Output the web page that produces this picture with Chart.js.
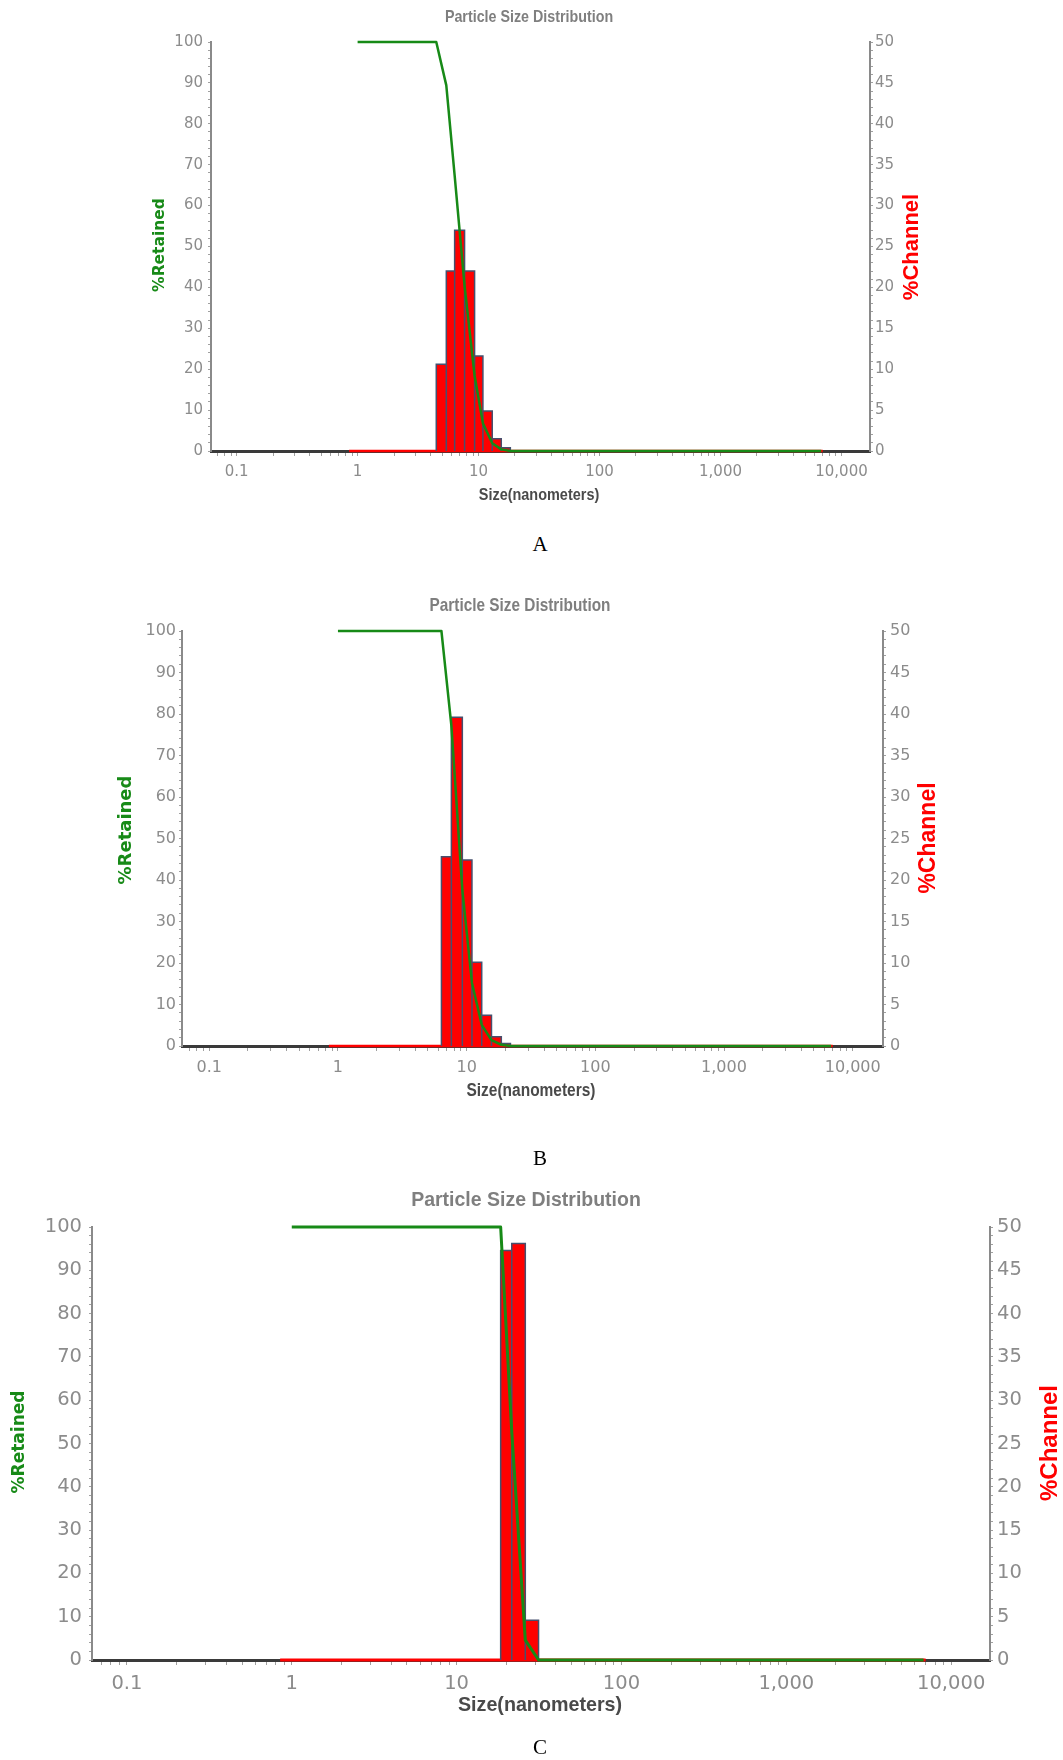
<!DOCTYPE html>
<html><head><meta charset="utf-8">
<script src="https://cdn.jsdelivr.net/npm/chart.js@4.4.1/dist/chart.umd.min.js"></script>
<style>
html,body{margin:0;padding:0;background:#fff;}
body{width:1063px;height:1760px;position:relative;overflow:hidden;}
.wrap{position:absolute;left:0;width:1063px;}
.lab{position:absolute;left:0;width:1080px;text-align:center;font-family:'Liberation Serif','Times New Roman',serif;font-size:21px;line-height:24px;color:#000;}
</style></head><body>
<div class="wrap" style="top:0;height:520px"><canvas id="cA"></canvas></div>
<div class="wrap" style="top:560px;height:560px"><canvas id="cB"></canvas></div>
<div class="wrap" style="top:1160px;height:600px"><canvas id="cC"></canvas></div>
<div class="lab" style="top:532px">A</div>
<div class="lab" style="top:1146px">B</div>
<div class="lab" style="top:1735px">C</div>
<script>
// ---------- data ----------
const xTickValues = [0.1, 1, 10, 100, 1000, 10000];
const xTickLabels = ['0.1', '1', '10', '100', '1,000', '10,000'];
const retainedTicks = [0, 10, 20, 30, 40, 50, 60, 70, 80, 90, 100];
const channelTicks = [0, 5, 10, 15, 20, 25, 30, 35, 40, 45, 50];
const X_MIN = 0.0614, X_MAX = 17200;

// red zero line of the %Channel trace, [from, to] in nm
const channelBaseA = [0.85, 7000];
const channelBaseB = [0.85, 7000];
const channelBaseC = [0.85, 7000];

// Chart A
const edgesA = [4.47, 5.41, 6.34, 7.66, 9.27, 10.86, 12.97, 15.4, 18.3];
const channelA = [10.6, 22.0, 27.0, 22.0, 11.6, 4.9, 1.5, 0.4];
const retSizeA = [1, 4.47, 5.41, 6.34, 7.66, 9.27, 10.86, 12.97, 15.4, 18.3, 6800];
const retainedA = [100, 100, 89.4, 67.4, 40.4, 18.4, 6.8, 1.9, 0.4, 0, 0];

// Chart B
const edgesB = [6.37, 7.61, 9.26, 11.0, 13.1, 15.6, 18.6, 21.9];
const channelB = [22.8, 39.6, 22.4, 10.1, 3.7, 1.1, 0.3];
const retSizeB = [1, 6.37, 7.61, 9.26, 11.0, 13.1, 15.6, 18.6, 21.9, 6800];
const retainedB = [100, 100, 77.2, 37.6, 15.2, 5.1, 1.4, 0.3, 0, 0];

// Chart C
const edgesC = [18.5, 21.6, 26.1, 31.4];
const channelC = [47.3, 48.1, 4.6];
const retSizeC = [1, 18.5, 21.6, 26.1, 31.4, 6800];
const retainedC = [100, 100, 52.7, 4.6, 0, 0];

// ---------- helpers ----------
const xMinorTicks = [];
for (let e = -2; e <= 4; e++) for (let m = 1; m <= 9; m++) {
  const v = +(m * Math.pow(10, e)).toPrecision(6);
  if (v >= X_MIN && v <= X_MAX) xMinorTicks.push(v);
}
function barOutline(edges, vals) {
  const pts = [{x: edges[0], y: 0}];
  vals.forEach((v, i) => { pts.push({x: edges[i], y: v}, {x: edges[i + 1], y: v}, {x: edges[i + 1], y: 0}); });
  return pts;
}
const zip = (xs, ys) => xs.map((x, i) => ({x, y: ys[i]}));

const textPlugin = {
  id: 'psdText',
  afterDraw(chart, args, opts) {
    const ctx = chart.ctx;
    (opts.items || []).forEach(it => {
      ctx.save();
      ctx.font = it.font; ctx.fillStyle = it.color;
      ctx.textAlign = 'center'; ctx.textBaseline = 'middle';
      ctx.translate(it.x, it.y);
      if (it.rot) ctx.rotate(it.rot);
      if (it.sx) ctx.scale(it.sx, 1);
      ctx.fillText(it.text, 0, 0);
      ctx.restore();
    });
  }
};

const GREEN = '#178a17', RED = '#ff0000', GRAY = '#8c8c8c';

function makeChart(id, c) {
  const top = c.canvasTop;
  const tickFont = {family: "'DejaVu Sans', Verdana, sans-serif", size: c.tickSize};
  new Chart(document.getElementById(id), {
    type: 'line',
    data: {
      datasets: [
        {data: zip(c.retSize, c.retained), yAxisID: 'yL', borderColor: GREEN, borderWidth: c.lw,
         pointRadius: 0, fill: false, tension: 0, borderJoinStyle: 'round', clip: false, order: 0},
        {data: barOutline(c.edges, c.channel), yAxisID: 'yR', borderColor: '#46506e', borderWidth: 1.5,
         backgroundColor: RED, pointRadius: 0, fill: 'origin', tension: 0, clip: false, order: 1},
        {data: [{x: c.base[0], y: 0}, {x: c.base[1], y: 0}], yAxisID: 'yR', borderColor: RED, borderWidth: c.lw,
         pointRadius: 0, fill: false, clip: false, order: 2}
      ]
    },
    options: {
      responsive: true, maintainAspectRatio: false, animation: false,
      layout: {padding: {top: c.areaTop - top, left: 0, right: 0, bottom: 0}},
      plugins: {
        legend: {display: false}, tooltip: {enabled: false}, title: {display: false},
        psdText: {items: [
          {text: 'Particle Size Distribution', x: c.title[0], y: c.title[1] - top, font: c.titleFont, color: '#7f7f7f', sx: c.titleSx},
          {text: 'Size(nanometers)', x: c.xTitle[0], y: c.xTitle[1] - top, font: c.xTitleFont, color: '#4a4a4a', sx: c.xTitleSx},
          {text: '%Retained', x: c.retTitle[0], y: c.retTitle[1] - top, font: c.retFont, color: GREEN, rot: -Math.PI / 2},
          {text: '%Channel', x: c.chTitle[0], y: c.chTitle[1] - top, font: c.chFont, color: RED, rot: -Math.PI / 2}
        ]}
      },
      scales: {
        x: {
          type: 'logarithmic', min: X_MIN, max: X_MAX,
          afterBuildTicks: s => { s.ticks = xMinorTicks.map(v => ({value: v})); },
          ticks: {autoSkip: false, maxRotation: 0, minRotation: 0, padding: 7, color: GRAY, font: tickFont,
            callback: v => { const i = xTickValues.findIndex(t => Math.abs(t - v) / t < 1e-6); return i >= 0 ? xTickLabels[i] : ''; }},
          grid: {drawOnChartArea: false, drawTicks: true, tickLength: 5, tickColor: '#a0a0a0', tickWidth: 1},
          border: {display: true, color: '#3a3a3a', width: 3},
          afterFit: s => { s.height = c.canvasH - (c.areaBottom - top); }
        },
        yL: {
          type: 'linear', position: 'left', min: 0, max: 100,
          ticks: {stepSize: 2, autoSkip: false, padding: c.padL, color: GRAY, font: tickFont,
            callback: v => retainedTicks.includes(v) ? String(v) : ''},
          grid: {drawOnChartArea: false, tickLength: 3, tickColor: '#a0a0a0', tickWidth: 1},
          border: {display: true, color: '#8a8a8a', width: 2},
          afterFit: s => { s.width = c.areaLeft; }
        },
        yR: {
          type: 'linear', position: 'right', min: 0, max: 50,
          ticks: {stepSize: 1, autoSkip: false, padding: c.padR, color: GRAY, font: tickFont,
            callback: v => channelTicks.includes(v) ? String(v) : ''},
          grid: {drawOnChartArea: false, tickLength: 3, tickColor: '#a0a0a0', tickWidth: 1},
          border: {display: true, color: '#8a8a8a', width: 2},
          afterFit: s => { s.width = 1063 - c.areaRight; }
        }
      }
    },
    plugins: [textPlugin]
  });
}

const arial = "'Liberation Sans', Arial, sans-serif";
const dejavu = "'DejaVu Sans', Verdana, sans-serif";

makeChart('cA', {
  canvasTop: 0, canvasH: 520, areaTop: 42, areaBottom: 451, areaLeft: 211, areaRight: 870,
  tickSize: 15, padL: 5, padR: 2, lw: 2.5,
  edges: edgesA, channel: channelA, retSize: retSizeA, retained: retainedA, base: channelBaseA,
  title: [529, 17], titleFont: 'bold 17px ' + arial, titleSx: 0.84,
  xTitle: [539, 495], xTitleFont: 'bold 17px ' + arial, xTitleSx: 0.85,
  retTitle: [160, 245], retFont: 'bold 15.5px ' + dejavu,
  chTitle: [912, 247], chFont: 'bold 22px ' + arial
});
makeChart('cB', {
  canvasTop: 560, canvasH: 560, areaTop: 631, areaBottom: 1046, areaLeft: 182, areaRight: 883,
  tickSize: 16, padL: 3, padR: 4, lw: 2.5,
  edges: edgesB, channel: channelB, retSize: retSizeB, retained: retainedB, base: channelBaseB,
  title: [520, 606], titleFont: 'bold 18.5px ' + arial, titleSx: 0.83,
  xTitle: [531, 1091], xTitleFont: 'bold 18px ' + arial, xTitleSx: 0.86,
  retTitle: [126, 830], retFont: 'bold 18px ' + dejavu,
  chTitle: [929, 838], chFont: 'bold 23px ' + arial
});
makeChart('cC', {
  canvasTop: 1160, canvasH: 600, areaTop: 1227, areaBottom: 1660, areaLeft: 92, areaRight: 990,
  tickSize: 19.5, padL: 7, padR: 4, lw: 3,
  edges: edgesC, channel: channelC, retSize: retSizeC, retained: retainedC, base: channelBaseC,
  title: [526, 1201], titleFont: 'bold 19.5px ' + arial,
  xTitle: [540, 1706], xTitleFont: 'bold 19.7px ' + arial,
  retTitle: [20, 1442], retFont: 'bold 17px ' + dejavu,
  chTitle: [1050, 1443], chFont: 'bold 24px ' + arial
});
</script>
</body></html>
